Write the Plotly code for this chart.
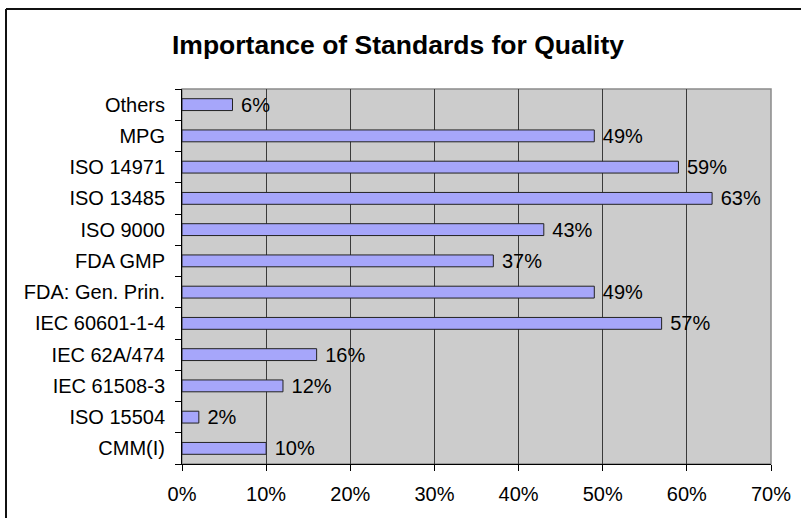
import plotly.graph_objects as go

title = "Importance of Standards for Quality"
categories = ["CMM(I)", "ISO 15504", "IEC 61508-3", "IEC 62A/474", "IEC 60601-1-4",
              "FDA: Gen. Prin.", "FDA GMP", "ISO 9000", "ISO 13485", "ISO 14971",
              "MPG", "Others"]
values = [0.10, 0.02, 0.12, 0.16, 0.57, 0.49, 0.37, 0.43, 0.63, 0.59, 0.49, 0.06]
x_ticks = [0, 0.1, 0.2, 0.3, 0.4, 0.5, 0.6, 0.7]

FONT = "Liberation Sans, Arial, sans-serif"
FS = 20

fig = go.Figure(go.Bar(
    y=categories, x=values, orientation="h",
    width=0.38,
    marker=dict(color="#A6A6FA", line=dict(color="#222222", width=1)),
    text=[f" {v*100:.0f}%" for v in values],
    textposition="outside",
    constraintext="none",
    textfont=dict(family=FONT, size=FS, color="#000000"),
    cliponaxis=False,
))

L, R, T, B = 182, 771, 89, 464
W, H = 801, 518
pw, ph = R - L, B - T

fig.update_layout(
    width=W, height=H,
    margin=dict(l=L, r=W - R, t=T, b=H - B, autoexpand=False),
    paper_bgcolor="#FFFFFF",
    plot_bgcolor="#CCCCCC",
    showlegend=False,
    title=dict(text="<b>" + title + "</b>", x=398 / W, xanchor="center",
               y=1 - 45 / H, yanchor="middle",
               font=dict(family=FONT, size=26.5, color="#000000")),
    font=dict(family=FONT, size=FS, color="#000000"),
    xaxis=dict(range=[0, 0.7], tickvals=x_ticks, tickformat=".0%",
               showgrid=True, gridcolor="#3A3A3A", gridwidth=1,
               showline=True, linecolor="#000000", linewidth=1,
               ticks="outside", ticklen=6, tickcolor="#000000",
               tickfont=dict(family=FONT, size=FS, color="#000000"),
               ticklabelstandoff=6, automargin=False,
               zeroline=False, fixedrange=True),
    yaxis=dict(type="category", categoryorder="array", categoryarray=categories,
               tickson="boundaries", ticks="outside", ticklen=6, tickcolor="#000000",
               showgrid=False, showline=True, linecolor="#000000", linewidth=1,
               tickfont=dict(family=FONT, size=FS, color="#000000"),
               ticklabelstandoff=12, automargin=False, fixedrange=True),
)

# plot area outline (gray)
fig.add_shape(type="rect", xref="paper", yref="paper", x0=0, x1=1, y0=0, y1=1,
              line=dict(color="#8A8A8A", width=1.5), layer="below")
# chart outer border: left and top edges only (others lie outside the picture)
bx = (6 - L) / pw
by = (B - 9) / ph
fig.add_shape(type="line", xref="paper", yref="paper",
              x0=bx, x1=bx, y0=(B - H) / ph, y1=by,
              line=dict(color="#111111", width=2))
fig.add_shape(type="line", xref="paper", yref="paper",
              x0=bx, x1=(W - L) / pw, y0=by, y1=by,
              line=dict(color="#111111", width=2))

fig.write_html("out.html")
